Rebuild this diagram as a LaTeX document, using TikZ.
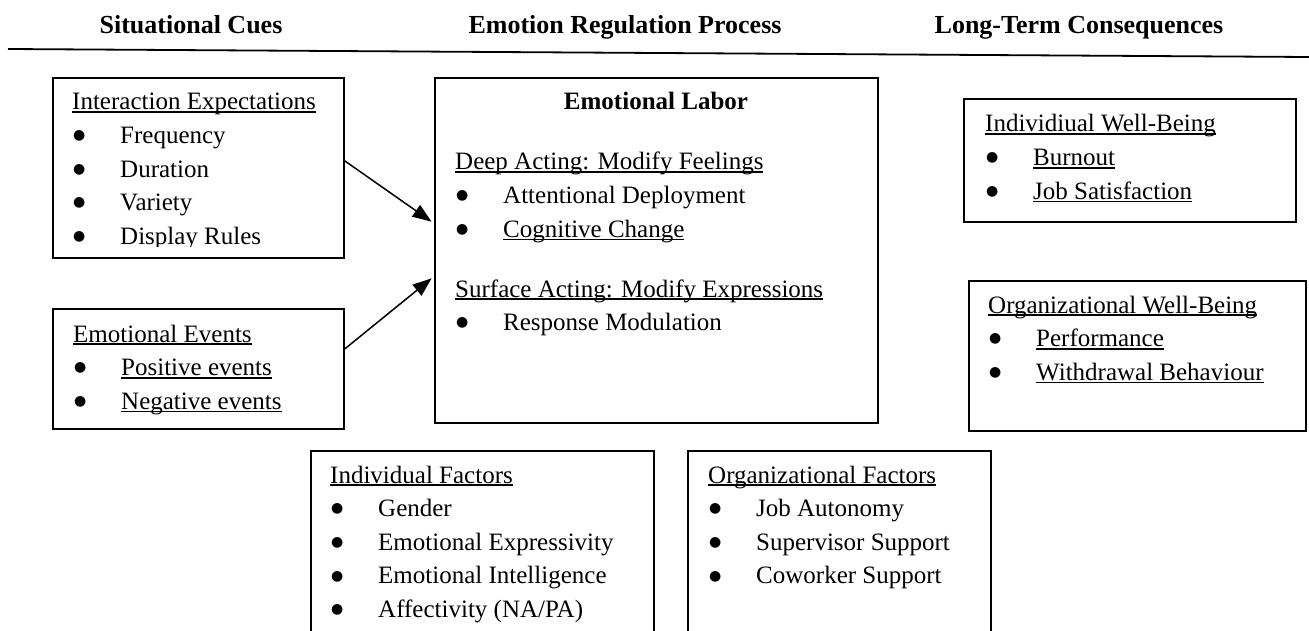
\documentclass[tikz,border=0pt]{standalone}
\usepackage{fontspec}
\setmainfont{Liberation Serif}
\newfontfamily\dotfont{DejaVu Sans}
\usetikzlibrary{arrows.meta}
\newcommand{\bul}{\makebox[48pt][l]{\hspace{1pt}\raisebox{3.8pt}{\dotfont\fontsize{14}{14}\selectfont ●}}}
\newcommand{\undl}[1]{\setbox0\hbox{#1}\rlap{\rule[-3pt]{\wd0}{1.6pt}}\box0}
\tikzset{
  box/.style={draw, rectangle, line width=1.8pt, anchor=north west, inner sep=0pt},
  txt/.style={anchor=base west, inner sep=0pt, font=\fontsize{25}{33.6}\selectfont},
  head/.style={anchor=base, inner sep=0pt, font=\fontsize{26}{30}\selectfont\bfseries},
  link/.style={line width=1.5pt, shorten >=3pt, -{Triangle[length=19pt,width=14pt]}}
}
\begin{document}
\begin{tikzpicture}[x=1pt, y=-1pt]
\useasboundingbox (0,0) rectangle (1309,631);
\clip (0,0) rectangle (1309,631);
% column heads
\node[head] (hcues) at (191,34) {Situational Cues};
\node[head] (hproc) at (625,34) {Emotion Regulation Process};
\node[head] (hcons) at (1079,34) {Long-Term Consequences};
\draw[line width=1.8pt] (8,49) -- (1309,57);

% boxes
\node[box, minimum width=291pt, minimum height=180pt] (ie) at (52,77) {};
\node[box, minimum width=291pt, minimum height=120pt] (ee) at (52,308) {};
\node[box, minimum width=443pt, minimum height=345pt] (el) at (434,77) {};
\node[box, minimum width=332pt, minimum height=123pt] (iwb) at (963,98) {};
\node[box, minimum width=337pt, minimum height=150pt] (owb) at (968,280) {};
\node[box, minimum width=343pt, minimum height=220pt] (ifac) at (310,450) {};
\node[box, minimum width=303pt, minimum height=220pt] (ofac) at (687,450) {};

% situational cues
\begin{scope}
  \clip (52,77) rectangle (343,246);
  \node[txt] (ietxt) at (72,110) {\begin{tabular}[t]{@{}l@{}}\undl{Interaction Expectations}\\
    \bul Frequency\\ \bul Duration\\ \bul Variety\\ \bul Display Rules\end{tabular}};
\end{scope}
\node[txt] (eetxt) at (73,342) {\begin{tabular}[t]{@{}l@{}}\undl{Emotional Events}\\
  \bul\undl{Positive events}\\ \bul\undl{Negative events}\end{tabular}};

% emotional labor
\node[head, font=\fontsize{25}{30}\selectfont\bfseries] (eltitle) at (656,110) {Emotional Labor};
\node[txt] (deep) at (455,170) {\begin{tabular}[t]{@{}l@{}}\undl{Deep Acting: Modify Feelings}\\
  \bul Attentional Deployment\\ \bul\undl{Cognitive Change}\end{tabular}};
\node[txt] (surf) at (455,297) {\begin{tabular}[t]{@{}l@{}}\undl{Surface Acting: Modify Expressions}\\
  \bul Response Modulation\end{tabular}};

% consequences
\node[txt] (iwbtxt) at (985,132) {\begin{tabular}[t]{@{}l@{}}\undl{Individiual Well-Being}\\
  \bul\undl{Burnout}\\ \bul\undl{Job Satisfaction}\end{tabular}};
\node[txt] (owbtxt) at (988,313) {\begin{tabular}[t]{@{}l@{}}\undl{Organizational Well-Being}\\
  \bul\undl{Performance}\\ \bul\undl{Withdrawal Behaviour}\end{tabular}};

% factors
\node[txt] (iftxt) at (330,483) {\begin{tabular}[t]{@{}l@{}}\undl{Individual Factors}\\
  \bul Gender\\ \bul Emotional Expressivity\\ \bul Emotional Intelligence\\ \bul Affectivity (NA/PA)\end{tabular}};
\node[txt] (oftxt) at (708,483) {\begin{tabular}[t]{@{}l@{}}\undl{Organizational Factors}\\
  \bul Job Autonomy\\ \bul Supervisor Support\\ \bul Coworker Support\end{tabular}};

% arrows
\draw[link] ([yshift=7pt]ie.east) -- ([yshift=27pt]el.west);
\draw[link] ([yshift=20pt]ee.east) -- ([yshift=-26pt]el.west);
\end{tikzpicture}
\end{document}
